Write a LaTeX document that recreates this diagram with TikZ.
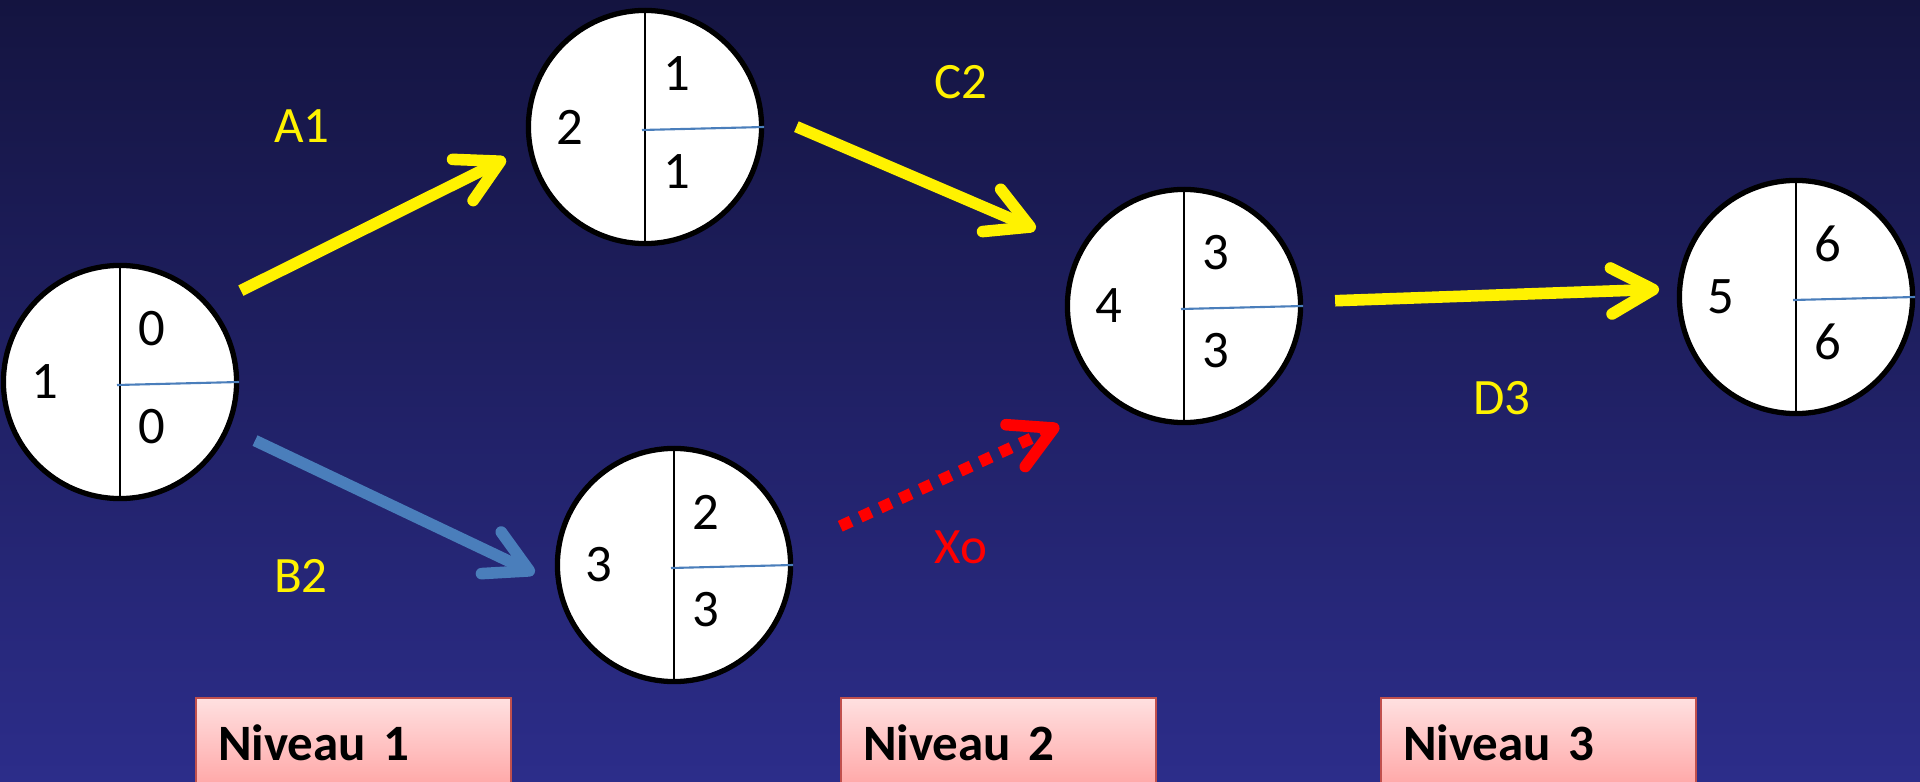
\documentclass[tikz,border=0pt]{standalone}
\usepackage{fontspec}
\setmainfont{Carlito}
\usepackage{xcolor}
\usepackage{tikz}
\usetikzlibrary{arrows.meta, positioning, calc}

\definecolor{bgtop}{HTML}{141440}
\definecolor{bgmid}{HTML}{22206A}
\definecolor{bgbot}{HTML}{2C2D8A}
\definecolor{linkblue}{HTML}{4A7EBB}
\definecolor{nivborder}{HTML}{C0504D}

\begin{document}
\begin{tikzpicture}[x=0.01cm, y=0.01cm,
    evt/.style={circle, draw=black, fill=white, line width=1.5pt, minimum size=2.33cm, inner sep=0pt},
    num/.style={font=\fontsize{15}{15}\selectfont, text=black},
    lbl/.style={font=\fontsize{14.5}{15}\selectfont},
    tip/.style={-{Straight Barb[length=4.2mm, width=4.6mm, round]}, line width=3.3pt},
    niv/.style={draw=nivborder, line width=0.6pt, top color=red!12, bottom color=red!35,
        text width=2.71cm, inner xsep=0.22cm, minimum height=0.9cm, anchor=north west,
        font=\fontsize{14.5}{15}\selectfont\bfseries}]
    \useasboundingbox (0,0) rectangle (1920,781);
    \clip (0,0) rectangle (1920,781);
    % Background
    \shade[top color=bgtop, middle color=bgmid, bottom color=bgbot] (0,0) rectangle (1920,781);

    % Events
    \foreach \n/\pos/\l/\t/\b in {n1/{120,399}/1/0/0, n2/{645,654}/2/1/1, n3/{674,216}/3/2/3,
                                  n4/{1184,475}/4/3/3, n5/{1796,484}/5/6/6} {
        \node[evt] (\n) at (\pos) {};
        \draw[black, line width=0.4pt] (\n.north) -- (\n.south);
        \draw[linkblue, line width=0.6pt] ($(\n)+(-3,-3)$) -- (\n.east);
        \node[num] (\n-l) at ($(\n)+(-75,0)$) {\l};
        \node[num] (\n-t) at ($(\n)+(32,53)$) {\t};
        \node[num] (\n-b) at ($(\n)+(32,-45)$) {\b};
    }

    % Tasks
    \draw[tip, yellow, shorten <=0.33cm, shorten >=0.245cm] (n1.40) -- (n2.190);
    \draw[tip, yellow, shorten <=0.36cm, shorten >=0.48cm] (n2.7) -- (n4.151);
    \draw[tip, yellow, shorten <=0.32cm, shorten >=0.18cm] (n4.2) -- (n5.176);
    \draw[tip, linkblue, shorten <=0.28cm, shorten >=0.24cm] (n1.-23) -- (n3.189);
    \draw[tip, red, dash pattern=on 0.12cm off 0.10cm, shorten <=0.53cm, shorten >=0.585cm] (n3.8) -- (n4.233);

    % Labels
    \node[lbl, yellow] (la) at (302,655) {A1};
    \node[lbl, yellow] (lc) at (961,699) {C2};
    \node[lbl, yellow] (lb) at (301,205) {B2};
    \node[lbl, yellow] (ld) at (1502,383) {D3};
    \node[lbl, red] (lx) at (961,234) {Xo};

    % Levels
    \node[niv] (nv1) at (195,84) {Niveau 1};
    \node[niv] (nv2) at (840,84) {Niveau 2};
    \node[niv] (nv3) at (1380,84) {Niveau 3};
\end{tikzpicture}
\end{document}
